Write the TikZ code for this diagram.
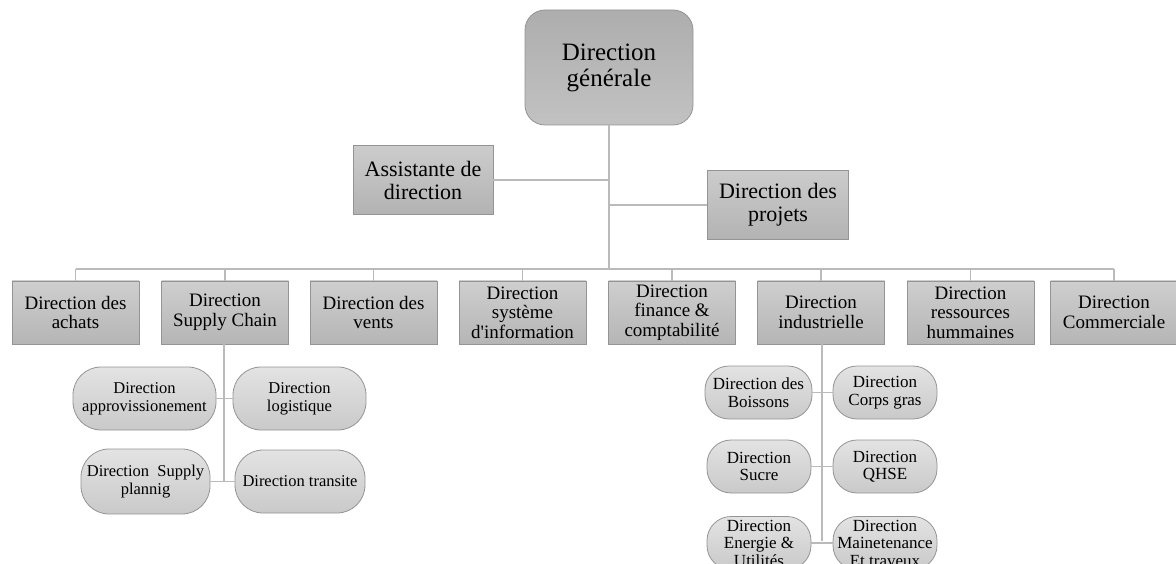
\documentclass[tikz,border=0pt]{standalone}
\usepackage{fontspec}
\setmainfont{Liberation Serif}[Ligatures=TeXOff]
\begin{document}
\begin{tikzpicture}[x=1pt,y=-1pt,
  basebox/.style={draw=black!42, line width=0.8pt, align=center, inner sep=1pt, text=black},
  topbox/.style={basebox, rounded corners=20pt, top color=black!32, bottom color=black!24,
    minimum width=168pt, minimum height=115pt, font=\fontsize{25}{26}\selectfont},
  midbox/.style={basebox, top color=black!20, bottom color=black!30,
    minimum width=140pt, minimum height=69pt, font=\fontsize{22}{23}\selectfont},
  rowbox/.style={basebox, top color=black!19, bottom color=black!29,
    minimum width=127pt, minimum height=63pt, font=\fontsize{19}{19.5}\selectfont},
  subbox/.style={basebox, top color=black!11, bottom color=black!21,
    minimum height=63pt, rounded corners=28pt, font=\fontsize{16.5}{18}\selectfont},
  indbox/.style={basebox, top color=black!11, bottom color=black!21,
    minimum width=105pt, minimum height=53pt, rounded corners=24pt, font=\fontsize{17}{17.5}\selectfont},
  link/.style={draw=black!27, line width=1.6pt}]
\useasboundingbox (0,0) rectangle (1176,564);
\clip (0,0) rectangle (1176,564);

\coordinate (busL) at (75.5,269);
\coordinate (busR) at (1114,269);
\coordinate (trunk) at (609,269);
\coordinate (scEnd) at (224,482);
\coordinate (diEnd) at (822,541);

% top level
\node[topbox] (dg) at (609,67.5) {Direction\\générale};
\node[midbox] (asst) at (423,180) {Assistante de\\direction};
\node[midbox, minimum width=141pt] (proj) at (778,205) {Direction des\\projets};

% row
\node[rowbox] (r1) at (75.5,312.5) {Direction des\\achats};
\node[rowbox] (r2) at (225,312.5) {Direction\\Supply Chain};
\node[rowbox] (r3) at (373.5,312.5) {Direction des\\vents};
\node[rowbox] (r4) at (522.5,312.5) {Direction\\système\\d'information};
\node[rowbox] (r5) at (672,312.5) {Direction\\finance \&\\comptabilité};
\node[rowbox] (r6) at (821,312.5) {Direction\\industrielle};
\node[rowbox] (r7) at (970.5,312.5) {Direction\\ressources\\hummaines};
\node[rowbox] (r8) at (1114,312.5) {Direction\\Commerciale};

% supply chain subs
\node[subbox, minimum width=143pt] (s1) at (144.5,398.5) {Direction\\approvissionement};
\node[subbox, minimum width=133pt] (s2) at (299.5,398.5) {Direction\\logistique};
\node[subbox, minimum width=129pt, minimum height=65pt] (s3) at (145.5,481.5) {Direction~ Supply\\plannig};
\node[subbox, minimum width=130pt] (s4) at (300,481.5) {Direction transite};

% industrial subs
\node[indbox, minimum width=107pt] (i1) at (758.5,392.5) {Direction des\\Boissons};
\node[indbox, minimum width=104pt] (i2) at (885,392.5) {Direction\\Corps gras};
\node[indbox, minimum width=104pt] (i3) at (759,466.5) {Direction\\Sucre};
\node[indbox, minimum width=104pt] (i4) at (885,466.5) {Direction\\QHSE};
\node[indbox, minimum width=104pt] (i5) at (759,543) {Direction\\Energie \&\\Utilités};
\node[indbox, minimum width=104pt] (i6) at (885,543) {Direction\\Mainetenance\\Et traveux};

% links
\draw[link] (dg.south) -- (trunk);
\draw[link] (asst.east) -- (asst.east -| dg.south);
\draw[link] (proj.west) -- (proj.west -| dg.south);
\draw[link] (busL) -- (busR);
\foreach \n in {r1,r2,r3,r4,r5,r6,r7,r8} {\draw[link] (\n.north) -- (\n.north |- busL);}
\draw[link] (r2.south -| scEnd) -- (scEnd);
\draw[link] (s1.east) -- (s2.west);
\draw[link] (s3.east) -- (s4.west);
\draw[link] (r6.south -| diEnd) -- (diEnd);
\draw[link] (i1.east) -- (i2.west);
\draw[link] (i3.east) -- (i4.west);
\draw[link] (i5.east) -- (i6.west);
\end{tikzpicture}
\end{document}
